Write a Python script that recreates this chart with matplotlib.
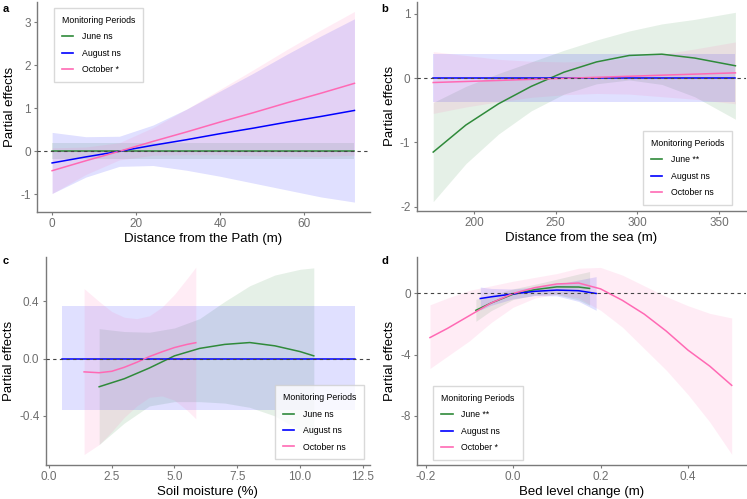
import matplotlib

matplotlib.use("Agg")

import matplotlib.pyplot as plt

plt.rcParams["font.family"] = ["Liberation Sans", "DejaVu Sans"]
plt.rcParams["axes.unicode_minus"] = False

GREEN = "#2f8a3a"
BLUE = "#0000ff"
PINK = "#ff69b4"
FILL_ALPHA = 0.12
AXIS_GREY = "#7a7a7a"

# ---- panel a : distance from the path ----
a_x = [0, 8, 16, 24, 32, 40, 48, 56, 64, 72]
a_june_fit = [0, 0, 0, 0, 0, 0, 0, 0, 0, 0]
a_june_lo = [-0.17, -0.17, -0.17, -0.17, -0.17, -0.17, -0.17, -0.17, -0.17, -0.17]
a_june_hi = [0.19, 0.19, 0.19, 0.19, 0.19, 0.19, 0.19, 0.19, 0.19, 0.19]
a_aug_fit = [-0.27, -0.13, 0.0, 0.14, 0.27, 0.41, 0.54, 0.68, 0.81, 0.95]
a_aug_lo = [-0.98, -0.60, -0.35, -0.33, -0.44, -0.58, -0.74, -0.90, -1.06, -1.18]
a_aug_hi = [0.44, 0.34, 0.35, 0.61, 0.98, 1.40, 1.82, 2.26, 2.68, 3.08]
a_oct_fit = [-0.45, -0.22, 0.0, 0.23, 0.45, 0.68, 0.90, 1.13, 1.35, 1.58]
a_oct_lo = [-0.98, -0.54, -0.20, -0.09, -0.08, -0.08, -0.10, -0.11, -0.12, -0.09]
a_oct_hi = [0.08, 0.10, 0.20, 0.55, 0.98, 1.44, 1.90, 2.37, 2.82, 3.25]
a_labels = ["June ns", "August ns", "October *"]

# ---- panel b : distance from the sea ----
b_x = [175, 195, 215, 235, 255, 275, 295, 315, 335, 360]
b_june_fit = [-1.15, -0.73, -0.40, -0.13, 0.09, 0.25, 0.35, 0.37, 0.31, 0.19]
b_june_lo = [-1.92, -1.33, -0.87, -0.51, -0.25, -0.09, -0.03, -0.10, -0.29, -0.64]
b_june_hi = [-0.38, -0.13, 0.07, 0.25, 0.43, 0.59, 0.73, 0.84, 0.91, 1.02]
b_aug_fit = [0, 0, 0, 0, 0, 0, 0, 0, 0, 0]
b_aug_lo = [-0.365, -0.365, -0.365, -0.365, -0.365, -0.365, -0.365, -0.365, -0.365, -0.365]
b_aug_hi = [0.365, 0.365, 0.365, 0.365, 0.365, 0.365, 0.365, 0.365, 0.365, 0.365]
b_oct_fit = [-0.07, -0.054, -0.038, -0.021, -0.005, 0.011, 0.027, 0.044, 0.06, 0.08]
b_oct_lo = [-0.55, -0.45, -0.37, -0.30, -0.26, -0.24, -0.25, -0.29, -0.33, -0.40]
b_oct_hi = [0.41, 0.35, 0.29, 0.26, 0.25, 0.26, 0.31, 0.37, 0.45, 0.56]
b_labels = ["June **", "August ns", "October ns"]

# ---- panel c : soil moisture ----
c_june_x = [2.0, 3.0, 4.0, 5.0, 6.0, 7.0, 8.0, 9.0, 10.0, 10.55]
c_june_fit = [-0.196, -0.14, -0.065, 0.02, 0.072, 0.10, 0.113, 0.09, 0.05, 0.02]
c_june_lo = [-0.60, -0.45, -0.33, -0.30, -0.30, -0.31, -0.34, -0.40, -0.50, -0.56]
c_june_hi = [0.21, 0.19, 0.185, 0.215, 0.28, 0.40, 0.51, 0.585, 0.625, 0.635]
c_aug_x = [0.5, 12.2]
c_aug_fit = [0, 0]
c_aug_lo = [-0.36, -0.36]
c_aug_hi = [0.365, 0.365]
c_oct_x = [1.4, 2.0, 2.5, 3.0, 3.5, 4.0, 4.5, 5.0, 5.5, 5.85]
c_oct_fit = [-0.092, -0.098, -0.088, -0.06, -0.025, 0.015, 0.048, 0.078, 0.10, 0.112]
c_oct_lo = [-0.67, -0.60, -0.51, -0.41, -0.33, -0.27, -0.26, -0.29, -0.36, -0.42]
c_oct_hi = [0.49, 0.40, 0.33, 0.29, 0.28, 0.30, 0.36, 0.45, 0.56, 0.64]
c_labels = ["June ns", "August ns", "October ns"]

# ---- panel d : bed level change ----
d_june_x = [-0.085, -0.05, 0.0, 0.05, 0.1, 0.15, 0.175]
d_june_fit = [-1.1, -0.62, -0.05, 0.25, 0.43, 0.42, 0.33]
d_june_lo = [-1.82, -1.12, -0.40, -0.10, -0.07, -0.43, -0.77]
d_june_hi = [-0.38, -0.12, 0.30, 0.60, 0.93, 1.27, 1.43]
d_aug_x = [-0.075, -0.05, 0.0, 0.05, 0.1, 0.15, 0.19]
d_aug_fit = [-0.33, -0.22, -0.03, 0.14, 0.22, 0.18, 0.0]
d_aug_lo = [-1.08, -0.77, -0.35, -0.14, -0.16, -0.52, -1.1]
d_aug_hi = [0.42, 0.33, 0.29, 0.42, 0.60, 0.88, 1.1]
d_oct_x = [-0.19, -0.15, -0.1, -0.05, 0.0, 0.05, 0.1, 0.15, 0.2, 0.25, 0.3, 0.35, 0.4, 0.45, 0.5]
d_oct_fit = [-2.88, -2.28, -1.45, -0.62, 0.0, 0.38, 0.62, 0.68, 0.30, -0.45, -1.35, -2.45, -3.70, -4.75, -6.0]
d_oct_lo = [-4.9, -4.1, -3.1, -1.9, -0.9, -0.3, -0.05, -0.3, -1.1, -2.2, -3.6, -5.0, -6.6, -8.4, -10.5]
d_oct_hi = [-0.74, -0.3, 0.2, 0.5, 0.8, 1.05, 1.3, 1.65, 1.7, 1.2, 0.5, -0.2, -0.8, -1.3, -1.6]
d_labels = ["June **", "August ns", "October *"]

W, H = 747, 499


def px_axes(fig, left, top, right, bottom):
    return fig.add_axes([left / W, 1 - bottom / H, (right - left) / W, (bottom - top) / H])


def draw_series(ax, x, fit, lo, hi, color, label):
    ax.fill_between(x, lo, hi, color=color, alpha=FILL_ALPHA, linewidth=0)
    ax.plot(x, fit, color=color, lw=1.1, label=label, zorder=3)


def style_axes(ax, xlabel, xlim, ylim, xticks, yticks, xtl=None, ytl=None):
    ax.set_xlim(*xlim)
    ax.set_ylim(*ylim)
    ax.set_xticks(xticks)
    ax.set_yticks(yticks)
    if xtl:
        ax.set_xticklabels(xtl)
    if ytl:
        ax.set_yticklabels(ytl)
    for side in ("top", "right"):
        ax.spines[side].set_visible(False)
    for side in ("left", "bottom"):
        ax.spines[side].set_color(AXIS_GREY)
        ax.spines[side].set_linewidth(1.0)
    ax.tick_params(colors=AXIS_GREY, labelcolor="#6e6e6e", labelsize=8.5, length=2.5, width=0.8, pad=2)
    ax.axhline(0, color="#444444", lw=0.8, ls=(0, (3, 3)), zorder=4)
    ax.set_xlabel(xlabel, fontsize=9.5, color="black", labelpad=2)
    ax.set_ylabel("Partial effects", fontsize=9.5, color="black", labelpad=3)


def add_legend(ax, loc, anchor):
    leg = ax.legend(
        title="Monitoring Periods", loc=loc, bbox_to_anchor=anchor, fontsize=6.3,
        title_fontsize=6.3, frameon=True, fancybox=False, edgecolor="#d0d0d0",
        handlelength=1.3, handletextpad=1.0, labelspacing=0.85, borderpad=0.9,
        alignment="left", borderaxespad=0,
    )
    leg.get_frame().set_linewidth(1.0)
    for line in leg.get_lines():
        line.set_linewidth(1.2)


fig = plt.figure(figsize=(W / 100, H / 100), dpi=100)

# a
ax = px_axes(fig, 37, 2, 370, 212)
draw_series(ax, a_x, a_june_fit, a_june_lo, a_june_hi, GREEN, a_labels[0])
draw_series(ax, a_x, a_aug_fit, a_aug_lo, a_aug_hi, BLUE, a_labels[1])
draw_series(ax, a_x, a_oct_fit, a_oct_lo, a_oct_hi, PINK, a_labels[2])
style_axes(ax, "Distance from the Path (m)", (-3.6, 75.7), (-1.41, 3.47),
           [0, 20, 40, 60], [-1, 0, 1, 2, 3])
add_legend(ax, "upper left", (0.051, 0.971))

# b
ax = px_axes(fig, 416.7, 2, 745.7, 210.7)
draw_series(ax, b_x, b_june_fit, b_june_lo, b_june_hi, GREEN, b_labels[0])
draw_series(ax, b_x, b_aug_fit, b_aug_lo, b_aug_hi, BLUE, b_labels[1])
draw_series(ax, b_x, b_oct_fit, b_oct_lo, b_oct_hi, PINK, b_labels[2])
style_axes(ax, "Distance from the sea (m)", (164.9, 366.3), (-2.06, 1.18),
           [200, 250, 300, 350], [-2, -1, 0, 1])
add_legend(ax, "lower right", (0.959, 0.027))

# c
ax = px_axes(fig, 45.7, 257, 370, 465)
draw_series(ax, c_june_x, c_june_fit, c_june_lo, c_june_hi, GREEN, c_labels[0])
draw_series(ax, c_aug_x, c_aug_fit, c_aug_lo, c_aug_hi, BLUE, c_labels[1])
draw_series(ax, c_oct_x, c_oct_fit, c_oct_lo, c_oct_hi, PINK, c_labels[2])
style_axes(ax, "Soil moisture (%)", (-0.13, 12.79), (-0.743, 0.711),
           [0, 2.5, 5, 7.5, 10, 12.5], [-0.4, 0, 0.4],
           ["0.0", "2.5", "5.0", "7.5", "10.0", "12.5"], ["-0.4", "0.0", "0.4"])
add_legend(ax, "lower right", (0.982, 0.027))

# d
ax = px_axes(fig, 417.3, 256.7, 745.7, 465)
draw_series(ax, d_june_x, d_june_fit, d_june_lo, d_june_hi, GREEN, d_labels[0])
draw_series(ax, d_aug_x, d_aug_fit, d_aug_lo, d_aug_hi, BLUE, d_labels[1])
draw_series(ax, d_oct_x, d_oct_fit, d_oct_lo, d_oct_hi, PINK, d_labels[2])
style_axes(ax, "Bed level change (m)", (-0.219, 0.532), (-11.2, 2.4),
           [-0.2, 0, 0.2, 0.4], [-8, -4, 0],
           ["-0.2", "0.0", "0.2", "0.4"], ["-8", "-4", "0"])
add_legend(ax, "lower left", (0.049, 0.024))

# panel tags
for tag, (tx, ty) in zip("abcd", [(3, 4), (381, 4), (3, 256), (381, 256)]):
    fig.text(tx / W, 1 - ty / H, tag, fontsize=8, fontweight="bold", va="top", ha="left")

fig.savefig("out.png", dpi=100)
